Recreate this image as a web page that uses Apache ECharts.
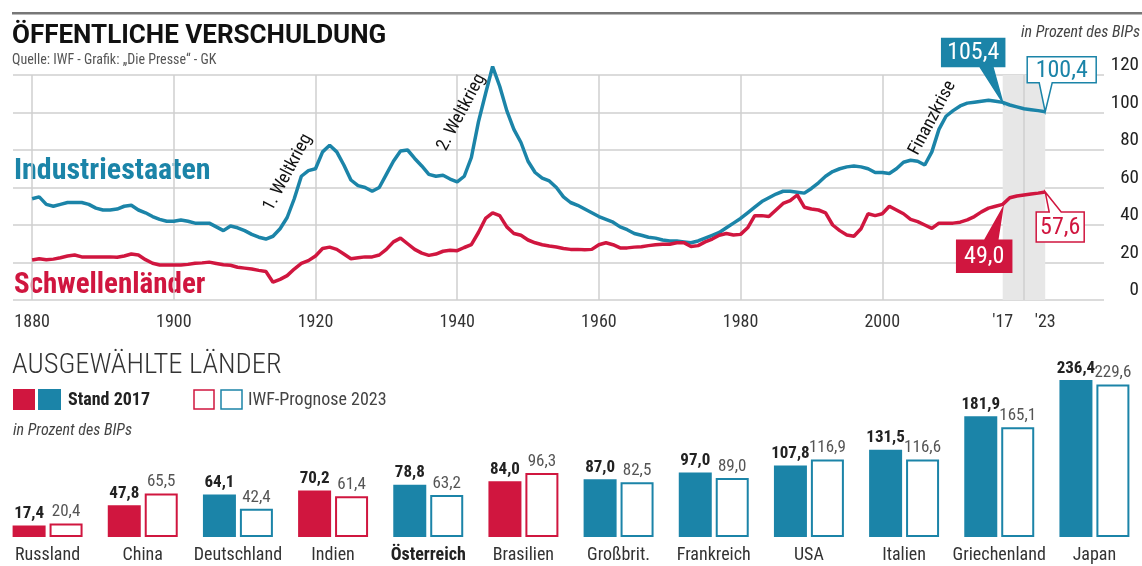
<!DOCTYPE html>
<html>
<head>
<meta charset="utf-8">
<script src="https://cdn.jsdelivr.net/npm/echarts@6/dist/echarts.min.js"></script>
<style>
html,body{margin:0;padding:0;background:#fff;}
#c{width:1142px;height:566px;}
</style>
</head>
<body>
<div id="c"></div>
<script>
// ---------- DATA ----------
const startYear = 1880;
const industriestaaten = [
 54, 55, 51, 50, 51, 52, 52, 52, 51, 49,
 48, 48, 48.5, 50, 50.5, 48, 46.5, 44.5, 43, 42,
 42, 42.7, 42, 41, 41, 41, 39, 37, 39.5, 38.5,
 37, 35, 33.5, 32.5, 34, 38, 44, 54, 66, 69,
 70, 79, 82.5, 79, 72, 64, 61, 60, 58, 60,
 67, 74, 79.5, 80, 75.5, 71.5, 67, 66, 66.5, 64.5,
 63, 66, 76, 95, 110, 124.5, 114, 101, 91, 84,
 74, 68, 65, 63.5, 60, 55, 52, 50.5, 48.5, 46.5,
 44.5, 43, 41.5, 39, 37.5, 35.5, 34.5, 33.5, 33, 32,
 31.5, 31.5, 31, 30.5, 31.5, 33, 34.5, 36, 38.5, 41,
 43.5, 46.5, 49.5, 52.5, 54.5, 56.5, 58, 58, 57.5, 57,
 59.5, 62.5, 66, 68.5, 70, 71, 71.5, 71, 70, 68,
 68, 67.5, 70, 73.5, 74.5, 74, 72, 79, 91, 98,
 101, 103.5, 105, 105.5, 106, 106.5, 106, 105.4, 104, 103,
 102, 101.5, 101, 100.4
];
const schwellenlaender = [
 21.3, 22, 21.5, 21.8, 22.5, 23.5, 24, 23, 23, 23,
 23, 23, 22.8, 23.5, 24.5, 24, 21.5, 19.6, 18.7, 18.7,
 18.7, 18.7, 19, 19.6, 19.8, 20.2, 19.5, 18.8, 18.5, 17.5,
 17, 16.5, 15.8, 15.2, 9.5, 11, 13, 16.5, 19.5, 21,
 23.5, 27.5, 28.2, 27, 24.5, 22, 22.5, 23, 23, 24,
 27, 31, 33, 30, 27, 25, 23.8, 24.5, 26, 26.5,
 26.3, 28, 29.5, 36, 43.5, 46.5, 45, 39, 35.5, 34.5,
 32, 30.5, 29.5, 28.8, 28.3, 27.5, 27, 27, 26.8, 27,
 29.5, 30.5, 29.5, 27.8, 27.8, 28.2, 28.4, 29, 29.5, 29.7,
 29.7, 30.5, 30.6, 28.5, 29, 31, 32.5, 34.5, 35.5, 34.7,
 35, 38.5, 45, 45, 44.5, 48, 51.5, 53, 56, 49.5,
 48.5, 48, 46.5, 40, 37, 34.7, 34, 38, 46, 45,
 46, 50, 48, 46, 43, 41.8, 40, 38.2, 41, 41,
 41, 41.5, 42.7, 44.5, 47, 49, 50, 51, 54.5, 55.5,
 56, 56.5, 57, 57.6
];
const xTickYears = [1880, 1900, 1920, 1940, 1960, 1980, 2000, 2017, 2023];
const xGridYears = [1880, 1900, 1920, 1940, 1960, 1980, 2000, 2020];
const bandYears = [2017, 2023];
const calloutYears = [2017, 2023, 2017, 2023];
const calloutValues = [105.4, 100.4, 49.0, 57.6];
const eventNames = ['1. Weltkrieg', '2. Weltkrieg', 'Finanzkrise'];
const eventYears = [1916.1, 1940.6, 2007.1];
const eventValues = [68, 100, 97];

const countries = ['Russland','China','Deutschland','Indien','Österreich','Brasilien','Großbrit.','Frankreich','USA','Italien','Griechenland','Japan'];
const stand2017 = [17.4, 47.8, 64.1, 70.2, 78.8, 84.0, 87.0, 97.0, 107.8, 131.5, 181.9, 236.4];
const prognose2023 = [20.4, 65.5, 42.4, 61.4, 63.2, 96.3, 82.5, 89.0, 116.9, 116.6, 165.1, 229.6];
const countryGroup = ['S','S','I','S','I','S','I','I','I','I','I','I']; // S = Schwellenland, I = Industriestaat

// ---------- STYLE ----------
const BLUE = '#1b84a8';
const RED = '#d0163f';
const FONT = "'Roboto Condensed','DejaVu Sans Condensed',sans-serif";
const TFONT = "Roboto,'Liberation Sans',sans-serif";
const GRID = '#cfcfcf';

const fmt = v => v.toFixed(1).replace('.', ',');
const lineData = arr => arr.map((v, i) => [startYear + i, v]);
const colOf = i => countryGroup[i] === 'S' ? RED : BLUE;

const calloutStyle = [
  {dx:-61, dy:-64, w:63, h:28, b1:-23, b2:-10, up:false, filled:true,  color:BLUE},
  {dx:-18, dy:-55, w:69, h:26, b1:-6,  b2:7,   up:false, filled:false, color:BLUE},
  {dx:-46, dy:32,  w:55, h:32, b1:-18, b2:-5,  up:true,  filled:true,  color:RED},
  {dx:-9,  dy:20,  w:48, h:30, b1:4,   b2:16,  up:true,  filled:false, color:RED}
];

const chart = echarts.init(document.getElementById('c'), null, {renderer:'canvas'});

const txt = (x, y, text, font, fill, align) => ({
  type: 'text', x: x, y: y,
  style: {text: text, font: font, fill: fill, verticalAlign: 'middle', align: align || 'left'}
});

const option = {
  animation: false,
  backgroundColor: '#fff',
  grid: [
    {left: 13, right: 37, top: 75, bottom: 266},
    {left: 0, right: 0, top: 371, bottom: 29}
  ],
  xAxis: [
    {
      type: 'value', gridIndex: 0, min: 1877.3, max: 2031.3,
      axisLine: {show: false}, axisTick: {show: false}, splitLine: {show: false},
      axisLabel: {
        customValues: xTickYears, margin: 13,
        fontFamily: FONT, fontSize: 18, color: '#333',
        formatter: v => v > 2010 ? "'" + String(v).slice(2) : String(v)
      }
    },
    {
      type: 'category', gridIndex: 1, data: countries,
      axisLine: {show: false}, axisTick: {show: false},
      axisLabel: {
        margin: 9, fontFamily: FONT, fontSize: 18, color: '#333', interval: 0,
        formatter: v => v === 'Österreich' ? '{b|' + v + '}' : v,
        rich: {b: {fontFamily: FONT, fontSize: 18, fontWeight: 'bold', color: '#222'}}
      }
    }
  ],
  yAxis: [
    {
      type: 'value', gridIndex: 0, min: 0, max: 120, interval: 20, position: 'right',
      axisLine: {show: false}, axisTick: {show: false},
      splitLine: {show: true, lineStyle: {color: GRID, width: 1.5}},
      axisLabel: {
        align: 'right', margin: 35, verticalAlign: 'bottom', padding: [0, 0, 0, 0],
        fontFamily: FONT, fontSize: 19, color: '#222'
      }
    },
    {
      type: 'value', gridIndex: 1, min: 0, max: 250, show: false
    }
  ],
  series: [
    {
      type: 'line', name: 'Industriestaaten', xAxisIndex: 0, yAxisIndex: 0,
      data: lineData(industriestaaten), showSymbol: false, clip: false,
      lineStyle: {color: BLUE, width: 3.5}, z: 5,
      markArea: {
        silent: true, itemStyle: {color: '#e7e7e7'},
        data: [[{xAxis: bandYears[0]}, {xAxis: bandYears[1]}]]
      },
      markLine: {
        silent: true, symbol: 'none', label: {show: false},
        lineStyle: {color: GRID, width: 1.5, type: 'solid'},
        data: xGridYears.map(y => ({xAxis: y}))
      }
    },
    {
      type: 'line', name: 'Schwellenländer', xAxisIndex: 0, yAxisIndex: 0,
      data: lineData(schwellenlaender), showSymbol: false, clip: false,
      lineStyle: {color: RED, width: 3.5}, z: 5
    },
    {
      type: 'custom', name: 'callouts', xAxisIndex: 0, yAxisIndex: 0, clip: false, z: 10,
      data: calloutYears.map((y, i) => [y, calloutValues[i]]),
      renderItem: function (params, api) {
        const p = api.coord([api.value(0), api.value(1)]);
        const s = calloutStyle[params.dataIndex];
        const L = p[0] + s.dx, T = p[1] + s.dy, R = L + s.w, B = T + s.h;
        const b1 = p[0] + s.b1, b2 = p[0] + s.b2;
        let pts;
        if (s.up) pts = [[L, T], [b1, T], [p[0], p[1]], [b2, T], [R, T], [R, B], [L, B]];
        else pts = [[L, T], [R, T], [R, B], [b2, B], [p[0], p[1]], [b1, B], [L, B]];
        return {
          type: 'group',
          children: [
            {type: 'polygon', shape: {points: pts},
             style: {fill: s.filled ? s.color : '#fff', stroke: s.color, lineWidth: 1.5}},
            {type: 'text', x: (L + R) / 2, y: (T + B) / 2 + 1,
             style: {text: fmt(api.value(1)), fill: s.filled ? '#fff' : s.color,
                     font: '24px ' + FONT, align: 'center', verticalAlign: 'middle'}}
          ]
        };
      }
    },
    {
      type: 'custom', name: 'events', xAxisIndex: 0, yAxisIndex: 0, clip: false, z: 9,
      data: eventYears.map((y, i) => [y, eventValues[i]]),
      renderItem: function (params, api) {
        const p = api.coord([api.value(0), api.value(1)]);
        return {
          type: 'text', x: p[0], y: p[1], rotation: Math.PI * 62 / 180,
          style: {text: eventNames[params.dataIndex], fill: '#111',
                  font: '18px ' + FONT, align: 'center', verticalAlign: 'middle'}
        };
      }
    },
    {
      type: 'bar', name: 'Stand 2017', xAxisIndex: 1, yAxisIndex: 1,
      barWidth: 33, barGap: '12%',
      data: stand2017.map((v, i) => ({value: v, itemStyle: {color: colOf(i)}})),
      label: {show: true, position: 'top', distance: 3, fontFamily: FONT, fontSize: 17,
              fontWeight: 'bold', color: '#222', formatter: p => fmt(p.value)}
    },
    {
      type: 'bar', name: 'IWF-Prognose 2023', xAxisIndex: 1, yAxisIndex: 1,
      barWidth: 33, barGap: '12%',
      data: prognose2023.map((v, i) => ({value: v, itemStyle: {color: '#fff', borderColor: colOf(i), borderWidth: 2}})),
      label: {show: true, position: 'top', distance: 3, fontFamily: FONT, fontSize: 17,
              color: '#555', formatter: p => fmt(p.value)}
    }
  ],
  graphic: [
    {type: 'rect', shape: {x: 12, y: 12, width: 1130, height: 2.5}, style: {fill: '#777'}},
    txt(12, 36, 'ÖFFENTLICHE VERSCHULDUNG', 'bold 26px ' + TFONT, '#111'),
    txt(12, 60, 'Quelle: IWF - Grafik: „Die Presse“ - GK', '14px ' + FONT, '#555'),
    txt(1140, 33, 'in Prozent des BIPs', 'italic 16px ' + FONT, '#444', 'right'),
    txt(14, 171, 'Industriestaaten', 'bold 30px ' + FONT, BLUE),
    txt(14, 286, 'Schwellenländer', 'bold 29px ' + FONT, RED),
    txt(12, 366, 'AUSGEWÄHLTE LÄNDER', '300 28.5px ' + FONT, '#333'),
    {type: 'rect', shape: {x: 13, y: 389, width: 22, height: 21}, style: {fill: RED}},
    {type: 'rect', shape: {x: 38, y: 389, width: 23, height: 21}, style: {fill: BLUE}},
    txt(68, 400, 'Stand 2017', 'bold 18px ' + FONT, '#222'),
    {type: 'rect', shape: {x: 194, y: 390, width: 20, height: 19}, style: {fill: '#fff', stroke: RED, lineWidth: 1.5}},
    {type: 'rect', shape: {x: 221, y: 390, width: 21, height: 19}, style: {fill: '#fff', stroke: BLUE, lineWidth: 1.5}},
    txt(248, 400, 'IWF-Prognose 2023', '18px ' + FONT, '#444'),
    txt(13, 431, 'in Prozent des BIPs', 'italic 16px ' + FONT, '#444')
  ]
};
chart.setOption(option);
</script>
</body>
</html>
